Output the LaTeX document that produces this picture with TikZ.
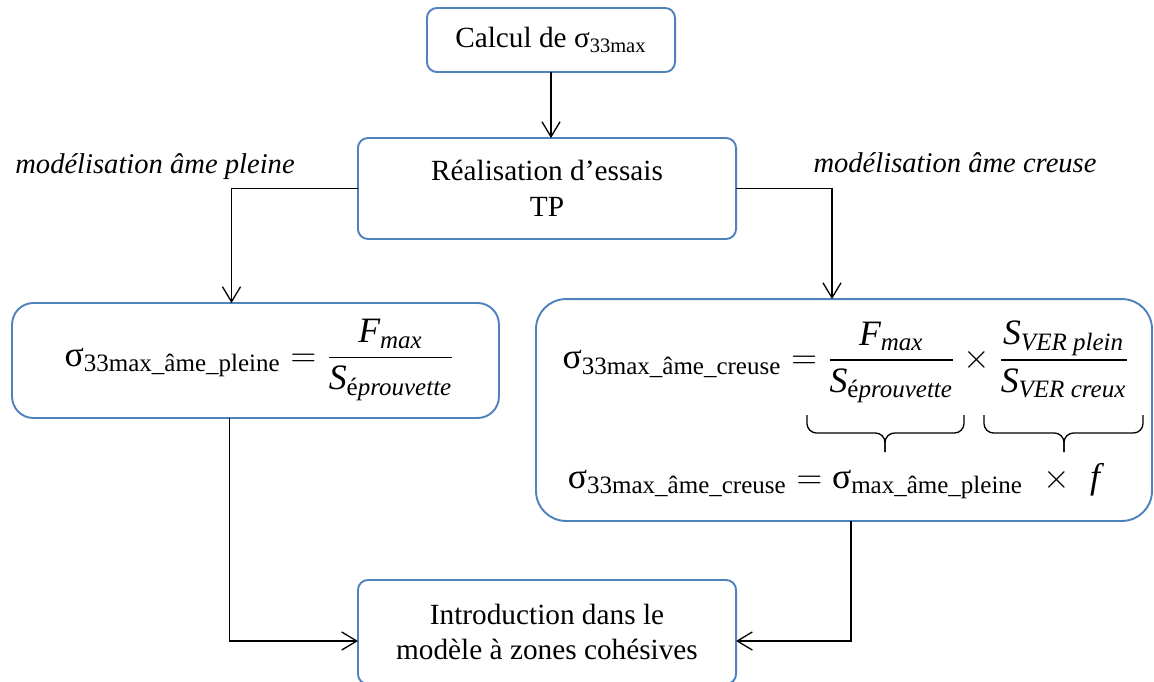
\documentclass[tikz,border=0pt,12pt]{standalone}
\usepackage{amsmath}
\usepackage{fontspec}
\setmainfont{Liberation Serif}
\usetikzlibrary{
  arrows.meta,
  calc,
  positioning
}
\definecolor{ink}{HTML}{000000}
\definecolor{frame}{HTML}{4F81BD}
\newcommand{\sig}{\text{σ}}
\newcommand{\Smax}[1]{\sig_{\text{#1}}}
\tikzset{
  flow/.style={
    -{Straight Barb[length=6.3pt,width=7.6pt]},
    line width=0.55pt,
    draw=ink
  },
  stepbox/.style={
    draw=frame,
    fill=white,
    line width=0.8pt,
    rounded corners=4.2pt,
    outer sep=0pt,
    align=center,
    font=\fontsize{12.3}{15}\selectfont
  },
  formbox/.style={
    stepbox,
    rounded corners=9pt
  },
  formula/.style={
    inner sep=0pt,
    font=\fontsize{15}{18}\selectfont
  },
  branchlabel/.style={
    font=\fontsize{12}{15}\selectfont\itshape
  }
}

\begin{document}
\begin{tikzpicture}[x=0.42pt, y=-0.42pt]
    \useasboundingbox (0,0) rectangle (1154,682);
    % main steps
    \node[stepbox, minimum width=104.2pt, minimum height=26.9pt] (calc) at (551,40)
      {Calcul de σ\textsubscript{33max}};
    \node[stepbox, minimum width=158.8pt, minimum height=42.4pt] (essais) at (547,188.5)
      {Réalisation d’essais\\TP};
    \node[formbox, minimum width=204.5pt, minimum height=48.3pt] (pleine) at (255.5,360.5) {};
    \node[formbox, rounded corners=12.6pt, minimum width=258.7pt, minimum height=93.2pt] (creuse) at (844,410) {};
    \node[stepbox, minimum width=158.8pt, minimum height=43.7pt] (intro) at (547,632)
      {Introduction dans le\\modèle à zones cohésives};
    % branch labels
    \node[branchlabel] (lblpleine) at (155,167) {modélisation âme pleine};
    \node[branchlabel] (lblcreuse) at (955,163) {modélisation âme creuse};
    % formulas
    \node[formula] (fpleine) at (260,360)
      {$\Smax{33max\_âme\_pleine} = \dfrac{\textit{F}_{\textit{max}}}{\textit{S}_{\text{é}\textit{prouvette}}}$};
    \node[formula] (fcreuse) at (846,362)
      {$\Smax{33max\_âme\_creuse} = \dfrac{\textit{F}_{\textit{max}}}{\textit{S}_{\text{é}\textit{prouvette}}}
       \times \dfrac{\textit{S}_{\textit{VER plein}}}{\textit{S}_{\textit{VER creux}}}$};
    \node[formula] (fproduit) at (834,481)
      {$\Smax{33max\_âme\_creuse} = \Smax{max\_âme\_pleine} \hspace{0.35em}\times\hspace{0.35em} \textit{f}$};
    % braces
    \draw[ink, line width=0.55pt, rounded corners=4pt]
      (807,415) -- (807,433) -- (885,433) -- (885,452);
    \draw[ink, line width=0.55pt, rounded corners=4pt]
      (885,452) -- (885,433) -- (964,433) -- (964,415);
    \draw[ink, line width=0.55pt, rounded corners=4pt]
      (984,415) -- (984,433) -- (1064,433) -- (1064,452);
    \draw[ink, line width=0.55pt, rounded corners=4pt]
      (1064,452) -- (1064,433) -- (1143,433) -- (1143,415);
    % connectors
    \draw[flow] (calc.south) -- (calc.south |- essais.north);
    \draw[flow] (essais.west) -| ($(pleine.north)+(-24,0)$);
    \draw[flow] (essais.east) -| ($(creuse.north)+(-12,0)$);
    \draw[flow] ($(pleine.south)+(-26,0)$) |- ($(intro.west)+(0,9)$);
    \draw[flow] ($(creuse.south)+(7,0)$) |- ($(intro.east)+(0,9)$);
\end{tikzpicture}
\end{document}
